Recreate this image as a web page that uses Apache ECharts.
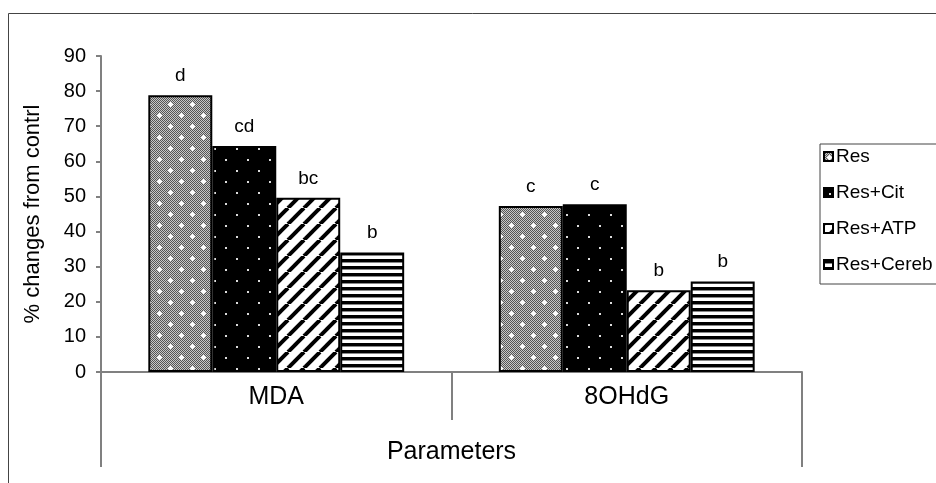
<!DOCTYPE html>
<html>
<head>
<meta charset="utf-8">
<script src="https://cdn.jsdelivr.net/npm/echarts@6/dist/echarts.min.js"></script>
<style>
  html, body { margin: 0; padding: 0; background: #fff; }
  #chart { width: 936px; height: 483px; }
</style>
</head>
<body>
<div id="chart"></div>
<script>
const categories = ['MDA', '8OHdG'];
const seriesNames = ['Res', 'Res+Cit', 'Res+ATP', 'Res+Cereb'];
const resValues = [78.8, 47.3];
const citValues = [64.4, 47.8];
const atpValues = [49.6, 23.3];
const cerebValues = [34.0, 25.8];
const resLetters = ['d', 'c'];
const citLetters = ['cd', 'c'];
const atpLetters = ['bc', 'b'];
const cerebLetters = ['b', 'b'];
const yTicks = [0, 10, 20, 30, 40, 50, 60, 70, 80, 90];

const FONT = 'Liberation Sans, Arial, sans-serif';

function tile(w, h, draw) {
    const c = document.createElement('canvas');
    c.width = w;
    c.height = h;
    draw(c.getContext('2d'));
    return { image: c, repeat: 'repeat' };
}

// grey dither with white crosses
const resPattern = tile(22, 22, ctx => {
    for (let y = 0; y < 22; y++) {
        for (let x = 0; x < 22; x++) {
            ctx.fillStyle = (x + y) % 2 === 0 ? '#555' : '#c8c8c8';
            ctx.fillRect(x, y, 1, 1);
        }
    }
    ctx.fillStyle = '#fff';
    [[5, 5], [16, 16]].forEach(([cx, cy]) => {
        ctx.fillRect(cx - 2, cy, 5, 1);
        ctx.fillRect(cx, cy - 2, 1, 5);
        ctx.fillRect(cx - 1, cy - 1, 3, 3);
    });
});

// black with small white dots
const citPattern = tile(22, 22, ctx => {
    ctx.fillStyle = '#000';
    ctx.fillRect(0, 0, 22, 22);
    ctx.fillStyle = '#ddd';
    [[5, 5], [16, 16]].forEach(([cx, cy]) => {
        ctx.fillRect(cx, cy, 2, 2);
    });
});

// diagonal stripes
const atpPattern = tile(16, 16, ctx => {
    ctx.fillStyle = '#fff';
    ctx.fillRect(0, 0, 16, 16);
    ctx.strokeStyle = '#000';
    ctx.lineWidth = 4;
    [-16, 0, 16].forEach(o => {
        ctx.beginPath();
        ctx.moveTo(o, 16);
        ctx.lineTo(o + 16, 0);
        ctx.stroke();
    });
});

// horizontal stripes
const cerebPattern = tile(4, 7, ctx => {
    ctx.fillStyle = '#fff';
    ctx.fillRect(0, 0, 4, 7);
    ctx.fillStyle = '#000';
    ctx.fillRect(0, 0, 4, 3);
    ctx.fillStyle = '#888';
    ctx.fillRect(0, 3, 4, 1);
});

function barSeries(name, values, letters, pattern) {
    return {
        name: name,
        type: 'bar',
        xAxisIndex: 0,
        barGap: 0,
        barCategoryGap: '27%',
        data: values,
        itemStyle: {
            color: pattern,
            borderColor: '#000',
            borderWidth: 2
        },
        label: {
            show: true,
            position: 'top',
            distance: 10,
            color: '#000',
            fontFamily: FONT,
            fontSize: 19,
            formatter: p => letters[p.dataIndex]
        }
    };
}

const chart = echarts.init(document.getElementById('chart'));

chart.setOption({
    animation: false,
    backgroundColor: '#fff',
    grid: {
        left: 101,
        right: 134,
        top: 56,
        bottom: 111
    },
    legend: {
        orient: 'vertical',
        left: 820,
        top: 144,
        itemWidth: 9,
        itemHeight: 9,
        itemGap: 17,
        padding: [3, 60, 10, 3],
        borderColor: '#444',
        borderWidth: 1,
        icon: 'rect',
        data: seriesNames,
        textStyle: {
            fontFamily: FONT,
            fontSize: 19,
            color: '#000',
            padding: [0, 0, 0, -2]
        }
    },
    xAxis: [{
        type: 'category',
        data: categories,
        axisLine: { lineStyle: { color: '#808080', width: 2 } },
        axisTick: {
            show: true,
            alignWithLabel: false,
            length: 48,
            lineStyle: { color: '#808080', width: 2 }
        },
        axisLabel: {
            margin: 13,
            color: '#000',
            fontFamily: FONT,
            fontSize: 25
        }
    }, {
        type: 'category',
        position: 'bottom',
        data: ['Parameters'],
        axisLine: { show: false },
        axisTick: {
            show: true,
            length: 95,
            lineStyle: { color: '#808080', width: 2 }
        },
        axisLabel: {
            margin: 68,
            color: '#000',
            fontFamily: FONT,
            fontSize: 25
        }
    }],
    yAxis: {
        type: 'value',
        min: 0,
        max: 90,
        interval: 10,
        name: '% changes from contrl',
        nameLocation: 'middle',
        nameGap: 57,
        nameTextStyle: {
            color: '#000',
            fontFamily: FONT,
            fontSize: 22
        },
        axisLine: { show: true, lineStyle: { color: '#808080', width: 2 } },
        axisTick: { show: true, length: 5, lineStyle: { color: '#808080', width: 2 } },
        splitLine: { show: false },
        axisLabel: {
            margin: 15,
            color: '#000',
            fontFamily: FONT,
            fontSize: 20,
            formatter: v => yTicks.indexOf(v) >= 0 ? String(v) : ''
        }
    },
    graphic: [{
        type: 'rect',
        silent: true,
        z: -1,
        shape: { x: 8.5, y: 13.5, width: 1200, height: 1200 },
        style: { fill: 'none', stroke: '#444', lineWidth: 1 }
    }],
    series: [
        barSeries(seriesNames[0], resValues, resLetters, resPattern),
        barSeries(seriesNames[1], citValues, citLetters, citPattern),
        barSeries(seriesNames[2], atpValues, atpLetters, atpPattern),
        barSeries(seriesNames[3], cerebValues, cerebLetters, cerebPattern)
    ]
});
</script>
</body>
</html>
